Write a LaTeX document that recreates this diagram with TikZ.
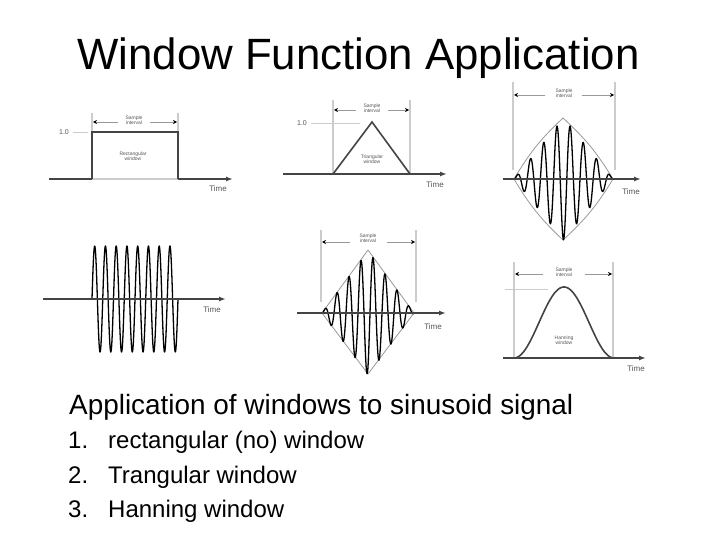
\documentclass[tikz,border=0pt]{standalone}
\usepackage{fontspec}
\setmainfont{Liberation Sans}
\usetikzlibrary{arrows.meta}
\definecolor{axisgray}{HTML}{444444}
\definecolor{linegray}{HTML}{CCCCCC}
\definecolor{envgray}{HTML}{999999}
\definecolor{labgray}{HTML}{555555}
\tikzset{
  axisline/.style={draw=axisgray, line width=1.8pt, -{Latex[length=7pt,width=5pt]}},
  guideline/.style={draw=linegray, line width=1.2pt},
  intarrow/.style={draw=envgray, line width=0.9pt, -{Stealth[length=4pt,width=4pt,color=black]}},
  sig/.style={draw=black, line width=1.3pt, line join=round},
  env/.style={draw=envgray, line width=0.8pt},
  tinylab/.style={font=\fontsize{5}{5.5}\selectfont, text=labgray, align=center, inner sep=0pt},
  timelab/.style={font=\fontsize{8}{9}\selectfont, text=labgray, inner sep=0pt},
  onelab/.style={font=\fontsize{7}{8}\selectfont, text=labgray, inner sep=0pt},
  title/.style={font=\fontsize{43.8}{50}\selectfont, anchor=base, inner sep=0pt},
  subtitle/.style={font=\fontsize{27.9}{32}\selectfont, anchor=base west, inner sep=0pt},
  listnum/.style={font=\fontsize{24}{28}\selectfont, anchor=base west, inner sep=0pt},
}
\begin{document}
\begin{tikzpicture}[x=1pt,y=-1pt]
\useasboundingbox (0,0) rectangle (720,540);
\fill[white] (0,0) rectangle (720,540);

% Title
\node[title] (title) at (358.5,70) {Window Function Application};

% ---------- Panel 1: rectangular window ----------
\draw[guideline] (92,113) -- (92,179);
\draw[guideline] (178,113) -- (178,179);
\node[tinylab] (si1) at (134,120) {Sample\\interval};
\draw[intarrow] (118,122) -- (93,122);
\draw[intarrow] (150,122) -- (177,122);
\node[onelab] (one1) at (64,132) {1.0};
\draw[guideline, line width=0.8pt] (73,132) -- (88,132);
\draw[draw=linegray, line width=1.6pt] (92,179) -- (178,179);
\draw[draw=axisgray, line width=1.8pt] (49,179) -- (92,179);
\draw[axisline] (178,179) -- (233,179);
\draw[draw=axisgray, line width=1.6pt] (92,179) -- (92,132) -- (178,132) -- (178,179);
\node[tinylab] (rw) at (133,156) {Rectangular\\window};
\node[timelab] (t1) at (218,189) {Time};

% ---------- Panel 2: triangular window ----------
\draw[guideline] (333,100) -- (333,174);
\draw[guideline] (410,100) -- (410,174);
\node[tinylab] (si2) at (372,108) {Sample\\interval};
\draw[intarrow] (356,110) -- (334,110);
\draw[intarrow] (388,110) -- (409,110);
\node[onelab] (one2) at (302,123) {1.0};
\draw[guideline, line width=0.8pt] (311,123) -- (360,123);
\draw[axisline] (283,174) -- (447,174);
\draw[draw=axisgray, line width=1.6pt, line join=miter] (333,174) -- (372,122) -- (410,174);
\node[tinylab] (tw) at (372,159) {Triangular\\window};
\node[timelab] (t2) at (435,185) {Time};

% ---------- Panel 3: triangular-windowed sinusoid ----------
\draw[guideline] (513,82) -- (513,170);
\draw[guideline] (615,82) -- (615,170);
\node[tinylab] (si3) at (564,93) {Sample\\interval};
\draw[intarrow] (545,95) -- (514,95);
\draw[intarrow] (582,95) -- (614,95);
\draw[env] (514,179) to[bend left=8] (563,118) to[bend left=8] (613,179) to[bend left=8] (563,240) to[bend left=8] (514,179);
\draw[sig] plot[domain=514:613, samples=400] (\x, {179 - 61*(1-abs(\x-563.5)/49.5)*sin((\x-514)/13.2*360)});
\draw[axisline] (503,179) -- (641,179);
\node[timelab] (t3) at (631,192) {Time};

% ---------- Panel 4: unwindowed sinusoid ----------
\draw[sig] plot[domain=92:178, samples=400] (\x, {299 - 53*sin((\x-92)/10.75*360)});
\draw[axisline] (43,299) -- (226,299);
\node[timelab] (t4) at (212,310) {Time};

% ---------- Panel 5: triangular-windowed sinusoid ----------
\draw[guideline] (321,230) -- (321,302);
\draw[guideline] (416,230) -- (416,302);
\node[tinylab] (si5) at (368,238) {Sample\\interval};
\draw[intarrow] (350,242) -- (322,242);
\draw[intarrow] (387,242) -- (415,242);
\draw[env] (322,313) -- (368,250) -- (414,313) -- (368,374) -- cycle;
\draw[sig] plot[domain=322:414, samples=400] (\x, {313 - 62*(1-abs(\x-368)/46)*sin((\x-322)/12*360)});
\draw[axisline] (297,313) -- (446,313);
\node[timelab] (t5) at (433,327) {Time};

% ---------- Panel 6: Hanning window ----------
\draw[guideline] (514,262) -- (514,358);
\draw[guideline] (613,262) -- (613,358);
\node[tinylab] (si6) at (564,272) {Sample\\interval};
\draw[intarrow] (543,274) -- (515,274);
\draw[intarrow] (585,274) -- (612,274);
\draw[guideline, line width=0.6pt] (505,289) -- (548,289);
\draw[draw=axisgray, line width=1.6pt] plot[domain=514:614, samples=200] (\x, {358 - 71*(0.5-0.5*cos((\x-514)/100*360))});
\draw[axisline] (503,358) -- (646,358);
\node[tinylab] (hw) at (564,340) {Hanning\\window};
\node[timelab] (t6) at (636,369) {Time};

% ---------- Text ----------
\node[subtitle] (sub) at (69,414) {Application of windows to sinusoid signal};
\node[listnum] (n1) at (68,448) {1.};
\node[listnum] (l1) at (108,448) {rectangular (no) window};
\node[listnum] (n2) at (68,483) {2.};
\node[listnum] (l2) at (108,483) {Trangular window};
\node[listnum] (n3) at (68,517) {3.};
\node[listnum] (l3) at (108,517) {Hanning window};
\end{tikzpicture}
\end{document}
